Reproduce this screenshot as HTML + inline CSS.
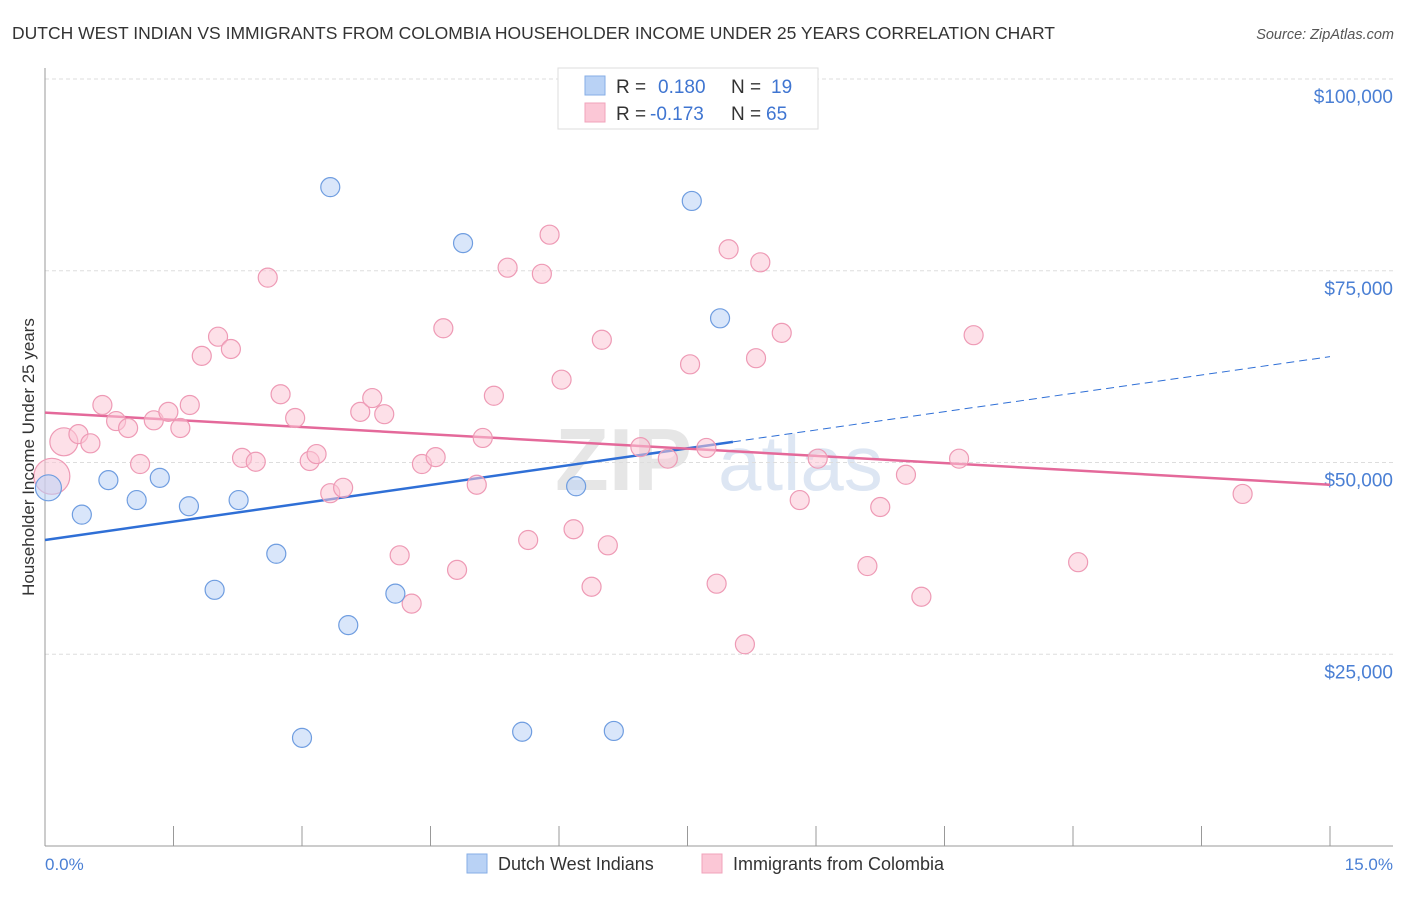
<!DOCTYPE html>
<html><head><meta charset="utf-8"><style>
body{margin:0;background:#fff;font-family:"Liberation Sans",sans-serif;}
svg text{font-family:"Liberation Sans",sans-serif;}
</style></head><body>
<svg id="chart" width="1406" height="892" viewBox="0 0 1406 892" xmlns="http://www.w3.org/2000/svg">
<text x="12" y="39" font-size="17.5" fill="#333">DUTCH WEST INDIAN VS IMMIGRANTS FROM COLOMBIA HOUSEHOLDER INCOME UNDER 25 YEARS CORRELATION CHART</text>
<text x="1394" y="39" font-size="14.5" fill="#555" font-style="italic" text-anchor="end">Source: ZipAtlas.com</text>
<g>
<text x="555" y="490" font-size="88" fill="#e6e6e6" font-weight="bold" font-family="Liberation Serif">ZIP</text>
<text x="718" y="490" font-size="78" fill="#dde6f3">atlas</text>
</g>
<g id="grid"></g>
<g id="axes"></g>
<g id="trends"></g>
<g id="points"></g>
<text transform="translate(34,457) rotate(-90)" font-size="17" fill="#333" text-anchor="middle">Householder Income Under 25 years</text>
<text x="45" y="870" font-size="17" fill="#4a7fd4">0.0%</text>
<text x="1393" y="870" font-size="17" fill="#4a7fd4" text-anchor="end">15.0%</text>
<g>
<rect x="558" y="68" width="260" height="61" fill="#fff" stroke="#ddd"/>
<rect x="585" y="76" width="20" height="19" fill="#b9d2f5" stroke="#86aee6"/>
<rect x="585" y="103" width="20" height="19" fill="#fbc7d6" stroke="#f0a3bb"/>
<text x="616" y="93" font-size="19" fill="#333">R =</text>
<text x="658" y="93" font-size="19" fill="#3f75d1">0.180</text>
<text x="731" y="93" font-size="19" fill="#333">N =</text>
<text x="771" y="93" font-size="19" fill="#3f75d1">19</text>
<text x="616" y="120" font-size="19" fill="#333">R =</text>
<text x="650" y="120" font-size="19" fill="#3f75d1">-0.173</text>
<text x="731" y="120" font-size="19" fill="#333">N =</text>
<text x="766" y="120" font-size="19" fill="#3f75d1">65</text>
</g>
<g>
<rect x="467" y="854" width="20" height="19" fill="#b9d2f5" stroke="#86aee6"/>
<text x="498" y="870" font-size="18" fill="#333">Dutch West Indians</text>
<rect x="702" y="854" width="20" height="19" fill="#fbc7d6" stroke="#f0a3bb"/>
<text x="733" y="870" font-size="18" fill="#333">Immigrants from Colombia</text>
</g>
</svg>
<script>
const yTicks=[25000,50000,75000,100000];
const yTickLabels=["$25,000","$50,000","$75,000","$100,000"];
const xTicks=[0,1,2,3,4,5,6,7,8,9,10,11,12,13,14,15];
const blueX=[0.04,0.43,0.74,1.07,1.34,1.68,2.26,1.98,2.70,3.00,3.33,3.54,4.09,4.88,5.57,6.20,6.64,7.55,7.88];
const blueY=[46.7,43.2,47.7,45.1,48.0,44.3,45.1,33.4,38.1,14.1,85.9,28.8,32.9,78.6,14.9,46.9,15.0,84.1,68.8];
const pinkX=[0.08,0.22,0.39,0.53,0.67,0.83,0.97,1.11,1.27,1.44,1.58,1.69,1.83,2.02,2.17,2.30,2.46,2.60,2.75,2.92,3.09,3.17,3.33,3.48,3.68,3.82,3.96,4.14,4.28,4.40,4.56,4.65,4.81,5.04,5.11,5.24,5.40,5.64,5.80,5.89,6.03,6.17,6.38,6.50,6.57,6.95,7.27,7.53,7.72,7.84,7.98,8.17,8.30,8.35,8.60,8.81,9.02,9.60,9.75,10.05,10.23,10.67,10.84,12.06,13.98];
const pinkY=[48.2,52.7,53.7,52.5,57.5,55.4,54.5,49.8,55.5,56.6,54.5,57.5,63.9,66.4,64.8,50.6,50.1,74.1,58.9,55.8,50.2,51.1,46.0,46.7,56.6,58.4,56.3,37.9,31.6,49.8,50.7,67.5,36.0,47.1,53.2,58.7,75.4,39.9,74.6,79.7,60.8,41.3,33.8,66.0,39.2,52.0,50.5,62.8,51.9,34.2,77.8,26.3,63.6,76.1,66.9,45.1,50.5,36.5,44.2,48.4,32.5,50.5,66.6,37.0,45.9];
const blueTrend=[39.9,63.8]; const blueSolidEnd=8.03;
const pinkTrend=[56.5,47.1];
const NS="http://www.w3.org/2000/svg";
const X=v=>45+v*(1285/15);
const Y=v=>846-v*7.67; // v in thousands
function mk(tag,attrs,parent){const e=document.createElementNS(NS,tag);for(const k in attrs)e.setAttribute(k,attrs[k]);parent.appendChild(e);return e;}
const grid=document.getElementById('grid'),axes=document.getElementById('axes'),trends=document.getElementById('trends'),pts=document.getElementById('points');
yTicks.forEach((t,i)=>{
 const l=mk('line',{x1:45,x2:1393,y1:Y(t/1000),y2:Y(t/1000),stroke:'#ddd','stroke-dasharray':'4,3'},grid);
 
 
 const tx=mk('text',{x:1393,y:Y(t/1000)+24,'font-size':19,fill:'#4a7fd4','text-anchor':'end'},grid);
 tx.textContent=yTickLabels[i];
 
 
});
let a=mk('line',{x1:45,x2:45,y1:68,y2:846,stroke:'#999'},axes);


a=mk('line',{x1:45,x2:1393,y1:846,y2:846,stroke:'#999'},axes);


xTicks.forEach(t=>{if(t>10 && t<15)return;});
for(let t=0;t<=10;t++){
 const l=mk('line',{x1:X(t*1.5),x2:X(t*1.5),y1:826,y2:846,stroke:'#999'},axes);
 
 
}
function drawPts(xs,ys,fill,stroke,name,big){
 xs.forEach((x,i)=>{
  const r=big[i]||9.5;
  const c=mk('circle',{cx:X(x),cy:Y(ys[i]),r:r,fill:fill,'fill-opacity':0.55,stroke:stroke,'stroke-width':1.2},pts);
  
  
 });
}
drawPts(pinkX,pinkY,'#fbc7d6','#ee9ab5','colombia-point',{0:18,1:14});
drawPts(blueX,blueY,'#b9d2f5','#6f9de0','dutch-west-indian-point',{0:13});
let t=mk('line',{x1:X(0),y1:Y(blueTrend[0]),x2:X(blueSolidEnd),y2:Y(blueTrend[0]+(blueTrend[1]-blueTrend[0])*blueSolidEnd/15),stroke:'#2f6fd6','stroke-width':2.5},trends);


t=mk('line',{x1:X(blueSolidEnd),y1:Y(blueTrend[0]+(blueTrend[1]-blueTrend[0])*blueSolidEnd/15),x2:X(15),y2:Y(blueTrend[1]),stroke:'#2f6fd6','stroke-width':1,'stroke-dasharray':'8,5'},trends);


t=mk('line',{x1:X(0),y1:Y(pinkTrend[0]),x2:X(15),y2:Y(pinkTrend[1]),stroke:'#e4699a','stroke-width':2.5},trends);


</script>
</body></html>
